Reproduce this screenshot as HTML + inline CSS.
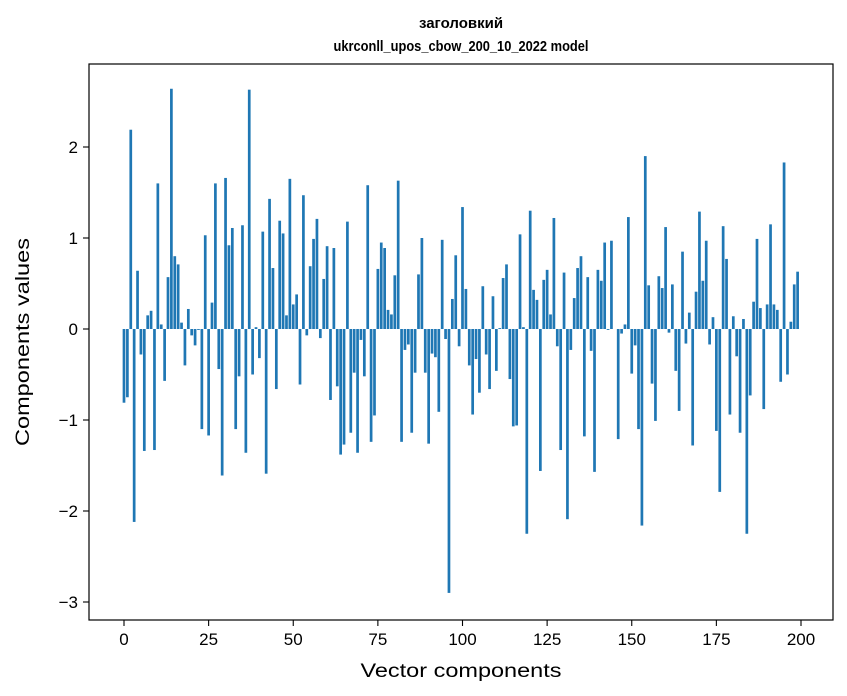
<!DOCTYPE html>
<html><head><meta charset="utf-8"><style>
body{margin:0;background:#fff;}
svg{display:block;font-family:"Liberation Sans","DejaVu Sans",sans-serif;}
</style></head><body>
<svg id="chart" width="847" height="696" viewBox="0 0 847 696" xmlns="http://www.w3.org/2000/svg">
<rect x="0" y="0" width="847" height="696" fill="#fff"/>
<text x="461" y="28" text-anchor="middle" font-size="15" font-weight="bold">заголовкий</text>
<text x="461" y="51" text-anchor="middle" font-size="15" font-weight="bold" textLength="255" lengthAdjust="spacingAndGlyphs">ukrconll_upos_cbow_200_10_2022 model</text>
<g id="bars"></g>
<g id="xaxis"></g>
<g id="yaxis"></g>
<rect x="89" y="64" width="744" height="556" fill="none" stroke="#000" stroke-width="1.2"/>
<text x="461" y="677" text-anchor="middle" font-size="19" textLength="201" lengthAdjust="spacingAndGlyphs">Vector components</text>
<text transform="translate(29,342) rotate(-90)" text-anchor="middle" font-size="19" textLength="208" lengthAdjust="spacingAndGlyphs">Components values</text>
</svg>
<script>
const values = [-0.81,-0.75,2.19,-2.12,0.64,-0.28,-1.34,0.15,0.2,-1.33,
1.6,0.05,-0.57,0.57,2.64,0.8,0.71,0.07,-0.4,0.22,
-0.07,-0.18,-0.01,-1.1,1.03,-1.17,0.29,1.6,-0.44,-1.61,
1.66,0.92,1.11,-1.1,-0.52,1.14,-1.36,2.63,-0.5,0.02,
-0.32,1.07,-1.59,1.43,0.67,-0.66,1.19,1.05,0.15,1.65,
0.27,0.38,-0.61,1.47,-0.07,0.69,0.99,1.21,-0.1,0.55,
0.91,-0.78,0.89,-0.63,-1.38,-1.27,1.18,-1.14,-0.48,-1.36,
-0.12,-0.52,1.58,-1.24,-0.95,0.66,0.95,0.89,0.21,0.16,
0.59,1.63,-1.24,-0.23,-0.17,-1.14,-0.48,0.6,1.0,-0.48,
-1.26,-0.27,-0.31,-0.91,0.98,-0.11,-2.9,0.33,0.81,-0.19,
1.34,0.44,-0.4,-0.94,-0.33,-0.7,0.47,-0.28,-0.66,0.36,
-0.46,0.01,0.56,0.71,-0.55,-1.07,-1.06,1.04,0.02,-2.25,
1.3,0.43,0.32,-1.56,0.54,0.65,0.16,1.22,-0.19,-1.33,
0.62,-2.09,-0.23,0.34,0.67,0.8,-1.18,0.57,-0.24,-1.57,
0.65,0.53,0.95,-0.01,0.97,0,-1.21,-0.05,0.05,1.23,
-0.49,-0.18,-1.1,-2.16,1.9,0.48,-0.6,-1.01,0.58,0.45,
1.12,-0.04,0.49,-0.46,-0.9,0.85,-0.16,0.18,-1.28,0.41,
1.29,0.53,0.97,-0.17,0.13,-1.12,-1.79,1.13,0.77,-0.94,
0.14,-0.3,-1.14,0.11,-2.25,-0.73,0.3,0.99,0.23,-0.88,
0.27,1.15,0.27,0.21,-0.58,1.83,-0.5,0.08,0.49,0.63];
const xTicks = [0,25,50,75,100,125,150,175,200];
const yTicks = [-3,-2,-1,0,1,2];
const NS = "http://www.w3.org/2000/svg";
const xs = v => 124 + v * (677/200);
const ys = v => 329 - v * 91;
const bars = document.getElementById('bars');
values.forEach((v,i)=>{
  const r = document.createElementNS(NS,'rect');
  
  
  r.setAttribute('x', xs(i-0.4));
  r.setAttribute('width', xs(0.8)-xs(0));
  r.setAttribute('y', Math.min(ys(v), ys(0)));
  r.setAttribute('height', Math.abs(ys(v)-ys(0)));
  r.setAttribute('fill', '#1f77b4');
  bars.appendChild(r);
});
const xa = document.getElementById('xaxis');
xTicks.forEach(t=>{
  const l = document.createElementNS(NS,'line');
  
  
  l.setAttribute('x1', xs(t)); l.setAttribute('x2', xs(t));
  l.setAttribute('y1', 620); l.setAttribute('y2', 626);
  l.setAttribute('stroke', '#000'); l.setAttribute('stroke-width', '1.1');
  xa.appendChild(l);
  const tx = document.createElementNS(NS,'text');
  
  
  tx.setAttribute('x', xs(t)); tx.setAttribute('y', 645);
  tx.setAttribute('text-anchor', 'middle'); tx.setAttribute('font-size', '17');
  tx.textContent = t;
  xa.appendChild(tx);
});
const ya = document.getElementById('yaxis');
yTicks.forEach(t=>{
  const l = document.createElementNS(NS,'line');
  
  
  l.setAttribute('x1', 83); l.setAttribute('x2', 89);
  l.setAttribute('y1', ys(t)); l.setAttribute('y2', ys(t));
  l.setAttribute('stroke', '#000'); l.setAttribute('stroke-width', '1.1');
  ya.appendChild(l);
  const tx = document.createElementNS(NS,'text');
  
  
  tx.setAttribute('x', 78); tx.setAttribute('y', ys(t)+6);
  tx.setAttribute('text-anchor', 'end'); tx.setAttribute('font-size', '17');
  tx.textContent = t < 0 ? '\u2212' + Math.abs(t) : String(t);
  ya.appendChild(tx);
});
</script>
</body></html>
